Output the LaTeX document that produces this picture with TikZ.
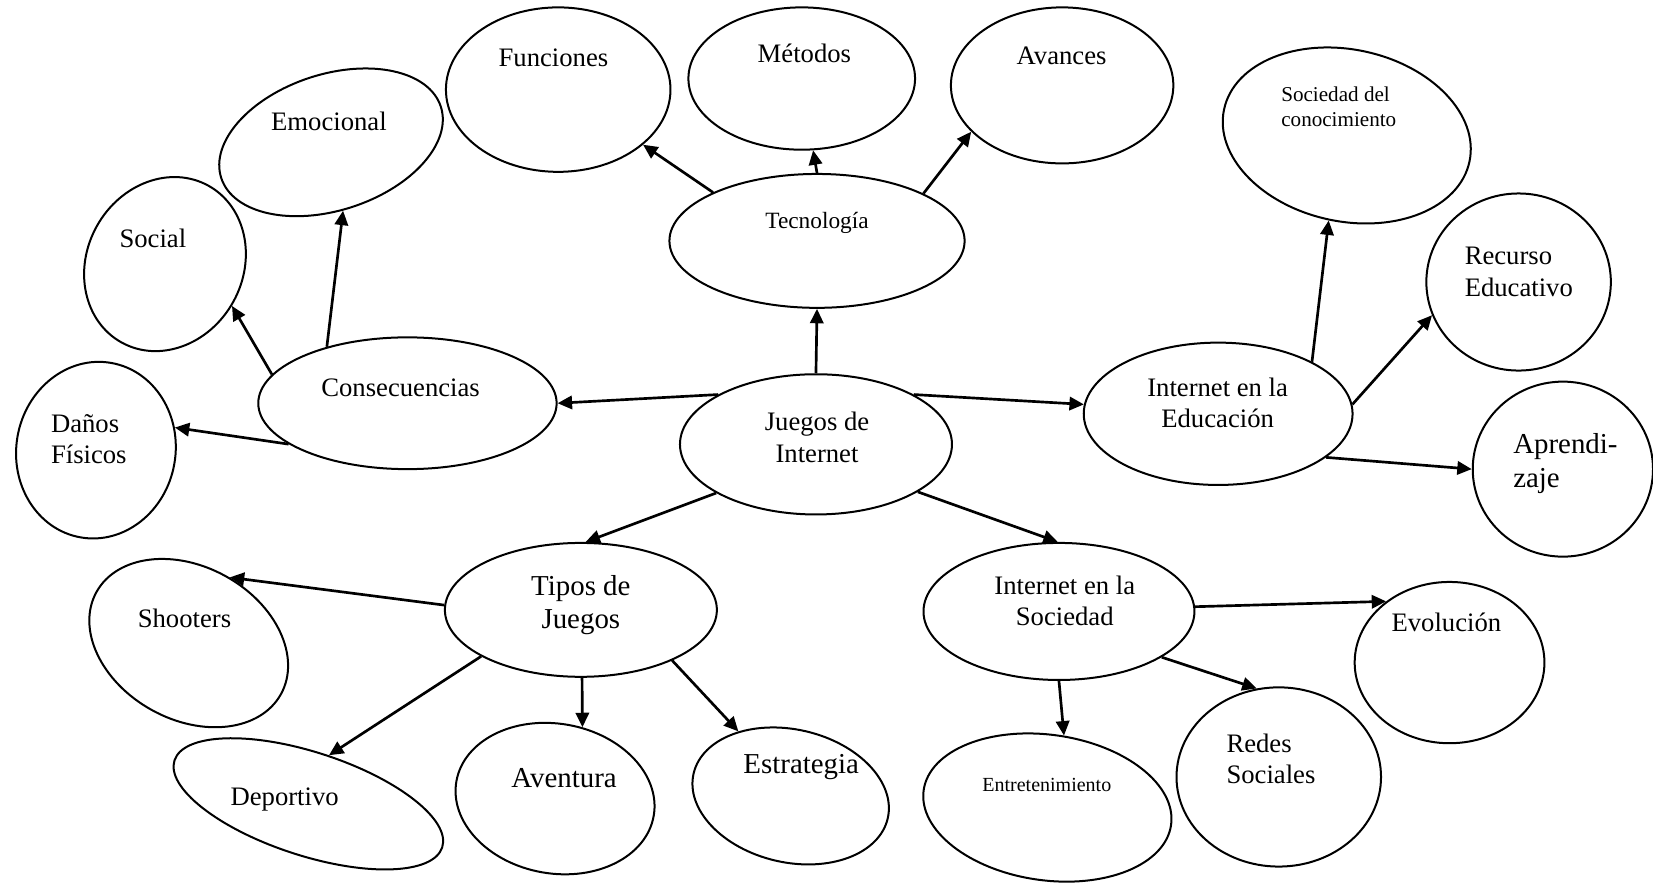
\documentclass[tikz,border=0pt]{standalone}
\usepackage{fontspec}
\setmainfont{Liberation Serif}
\usetikzlibrary{shapes.geometric,arrows.meta}
\begin{document}
\begin{tikzpicture}[x=0.4744pt, y=-0.4744pt, >={Triangle[length=6.5pt,width=6pt]},
  bub/.style={draw, ellipse, line width=0.9pt, inner sep=0pt},
  sz/.style 2 args={minimum width=#1*0.4744pt, minimum height=#2*0.4744pt},
  txt/.style={align=center, inner sep=0pt, font=\fontsize{12}{14.2}\selectfont},
  big/.style={txt, font=\fontsize{13}{15.2}\selectfont},
  sml/.style={txt, font=\fontsize{9.5}{11.4}\selectfont},
  arr/.style={->, line width=1.2pt}]
\useasboundingbox (0,0) rectangle (1568,838);
% centro
\node[bub, sz={258}{133}] (jueg) at (774,421.5) {};
\node[txt] (jueg-t) at (775,415) {Juegos de\\Internet};
% tecnologia
\node[bub, sz={280}{127}] (tecn) at (775,228.5) {};
\node[txt, font=\fontsize{10.5}{12.5}\selectfont] (tecn-t) at (775,211) {Tecnología};
\node[bub, sz={213}{156}] (func) at (529.5,85) {};
\node[txt] (func-t) at (525,55) {Funciones};
\node[bub, sz={215}{135}] (meto) at (760.5,74.5) {};
\node[txt] (meto-t) at (763,51) {Métodos};
\node[bub, sz={211}{148}] (avan) at (1007.5,81) {};
\node[txt] (avan-t) at (1007,53) {Avances};
% consecuencias
\node[bub, sz={283}{125}] (cons) at (386.5,382.5) {};
\node[txt] (cons-t) at (380,368) {Consecuencias};
\node[bub, sz={219}{129}, rotate=18] (emoc) at (314,135) {};
\node[txt] (emoc-t) at (312,115) {Emocional};
\node[bub, sz={148}{170}, rotate=-29] (soci) at (156.5,250.5) {};
\node[txt] (soci-t) at (145,226) {Social};
\node[bub, sz={151}{168}, rotate=-10] (dano) at (91,427) {};
\node[txt, align=left, anchor=west] (dano-t) at (48,416.5) {Daños\\Físicos};
% educacion
\node[bub, sz={255}{135}] (edu) at (1155.5,392.5) {};
\node[txt] (edu-t) at (1155,382) {Internet en la\\Educación};
\node[bub, sz={238}{163}, rotate=-12] (conoc) at (1277.5,128.5) {};
\node[sml, align=left, anchor=west] (conoc-t) at (1215,101) {Sociedad del\\conocimiento};
\node[bub, sz={175}{168}] (recu) at (1440.5,267.5) {};
\node[txt, align=left, anchor=west] (recu-t) at (1389,258) {Recurso\\Educativo};
\node[bub, sz={171}{166}] (apre) at (1482.5,445) {};
\node[big, align=left, anchor=west] (apre-t) at (1435,440) {Aprendi-\\zaje};
% tipos de juegos
\node[bub, sz={258}{127}] (tipos) at (551,578.5) {};
\node[big] (tipos-t) at (551,574) {Tipos de\\Juegos};
\node[bub, sz={200}{145}, rotate=-29] (shoo) at (179,610) {};
\node[txt] (shoo-t) at (175,587) {Shooters};
\node[bub, sz={267}{98}, rotate=-18] (depo) at (292.5,762.5) {};
\node[txt] (depo-t) at (270,758) {Deportivo};
\node[bub, sz={190}{142}, rotate=-10] (aven) at (526.5,757.5) {};
\node[big] (aven-t) at (535,738) {Aventura};
\node[bub, sz={189}{126}, rotate=-13] (estr) at (750,755) {};
\node[big] (estr-t) at (760,728) {Estrategia};
% sociedad
\node[bub, sz={257}{130}] (soc) at (1004.5,580) {};
\node[txt] (soc-t) at (1010,570) {Internet en la\\Sociedad};
\node[bub, sz={237}{138}, rotate=-8] (entr) at (993.5,766) {};
\node[sml, font=\fontsize{9}{11}\selectfont] (entr-t) at (993,745) {Entretenimiento};
\node[bub, sz={194}{170}] (rede) at (1213,737) {};
\node[txt, align=left, anchor=west] (rede-t) at (1163,720) {Redes\\Sociales};
\node[bub, sz={180}{153}] (evol) at (1375,628.5) {};
\node[txt] (evol-t) at (1372,590) {Evolución};
% flechas
\draw[arr] (jueg.90) -- (tecn.-90);
\draw[arr] (jueg.153) -- (cons.0);
\draw[arr] (jueg.27.6) -- (edu.176.7);
\draw[arr] (jueg.-154.5) -- (tipos.86.6);
\draw[arr] (jueg.-25.5) -- (soc.91.3);
\draw[arr] (tecn.155.5) -- (func.-33.9);
\draw[arr] (tecn.90) -- (meto.-81.9);
\draw[arr] (tecn.24.5) -- (avan.-153.3);
\draw[arr] (cons.145.9) -- (emoc.-98);
\draw[arr] (cons.168.8) -- (soci.-3.7);
\draw[arr] (cons.-161.3) -- (dano.26.8);
\draw[arr] (edu.29.8) -- (conoc.-90.6);
\draw[arr] (edu.4.2) -- (recu.-159);
\draw[arr] (edu.-22.7) -- (apre.180);
\draw[arr] (tipos.178) -- (shoo.87.2);
\draw[arr] (tipos.-155.5) -- (depo.85.6);
\draw[arr] (tipos.-89) -- (aven.79.3);
\draw[arr] (tipos.-29.1) -- (estr.142.4);
\draw[arr] (soc.-90) -- (entr.85.2);
\draw[arr] (soc.-24.4) -- (rede.104.9);
\draw[arr] (soc.2.7) -- (evol.136.4);
\end{tikzpicture}
\end{document}
